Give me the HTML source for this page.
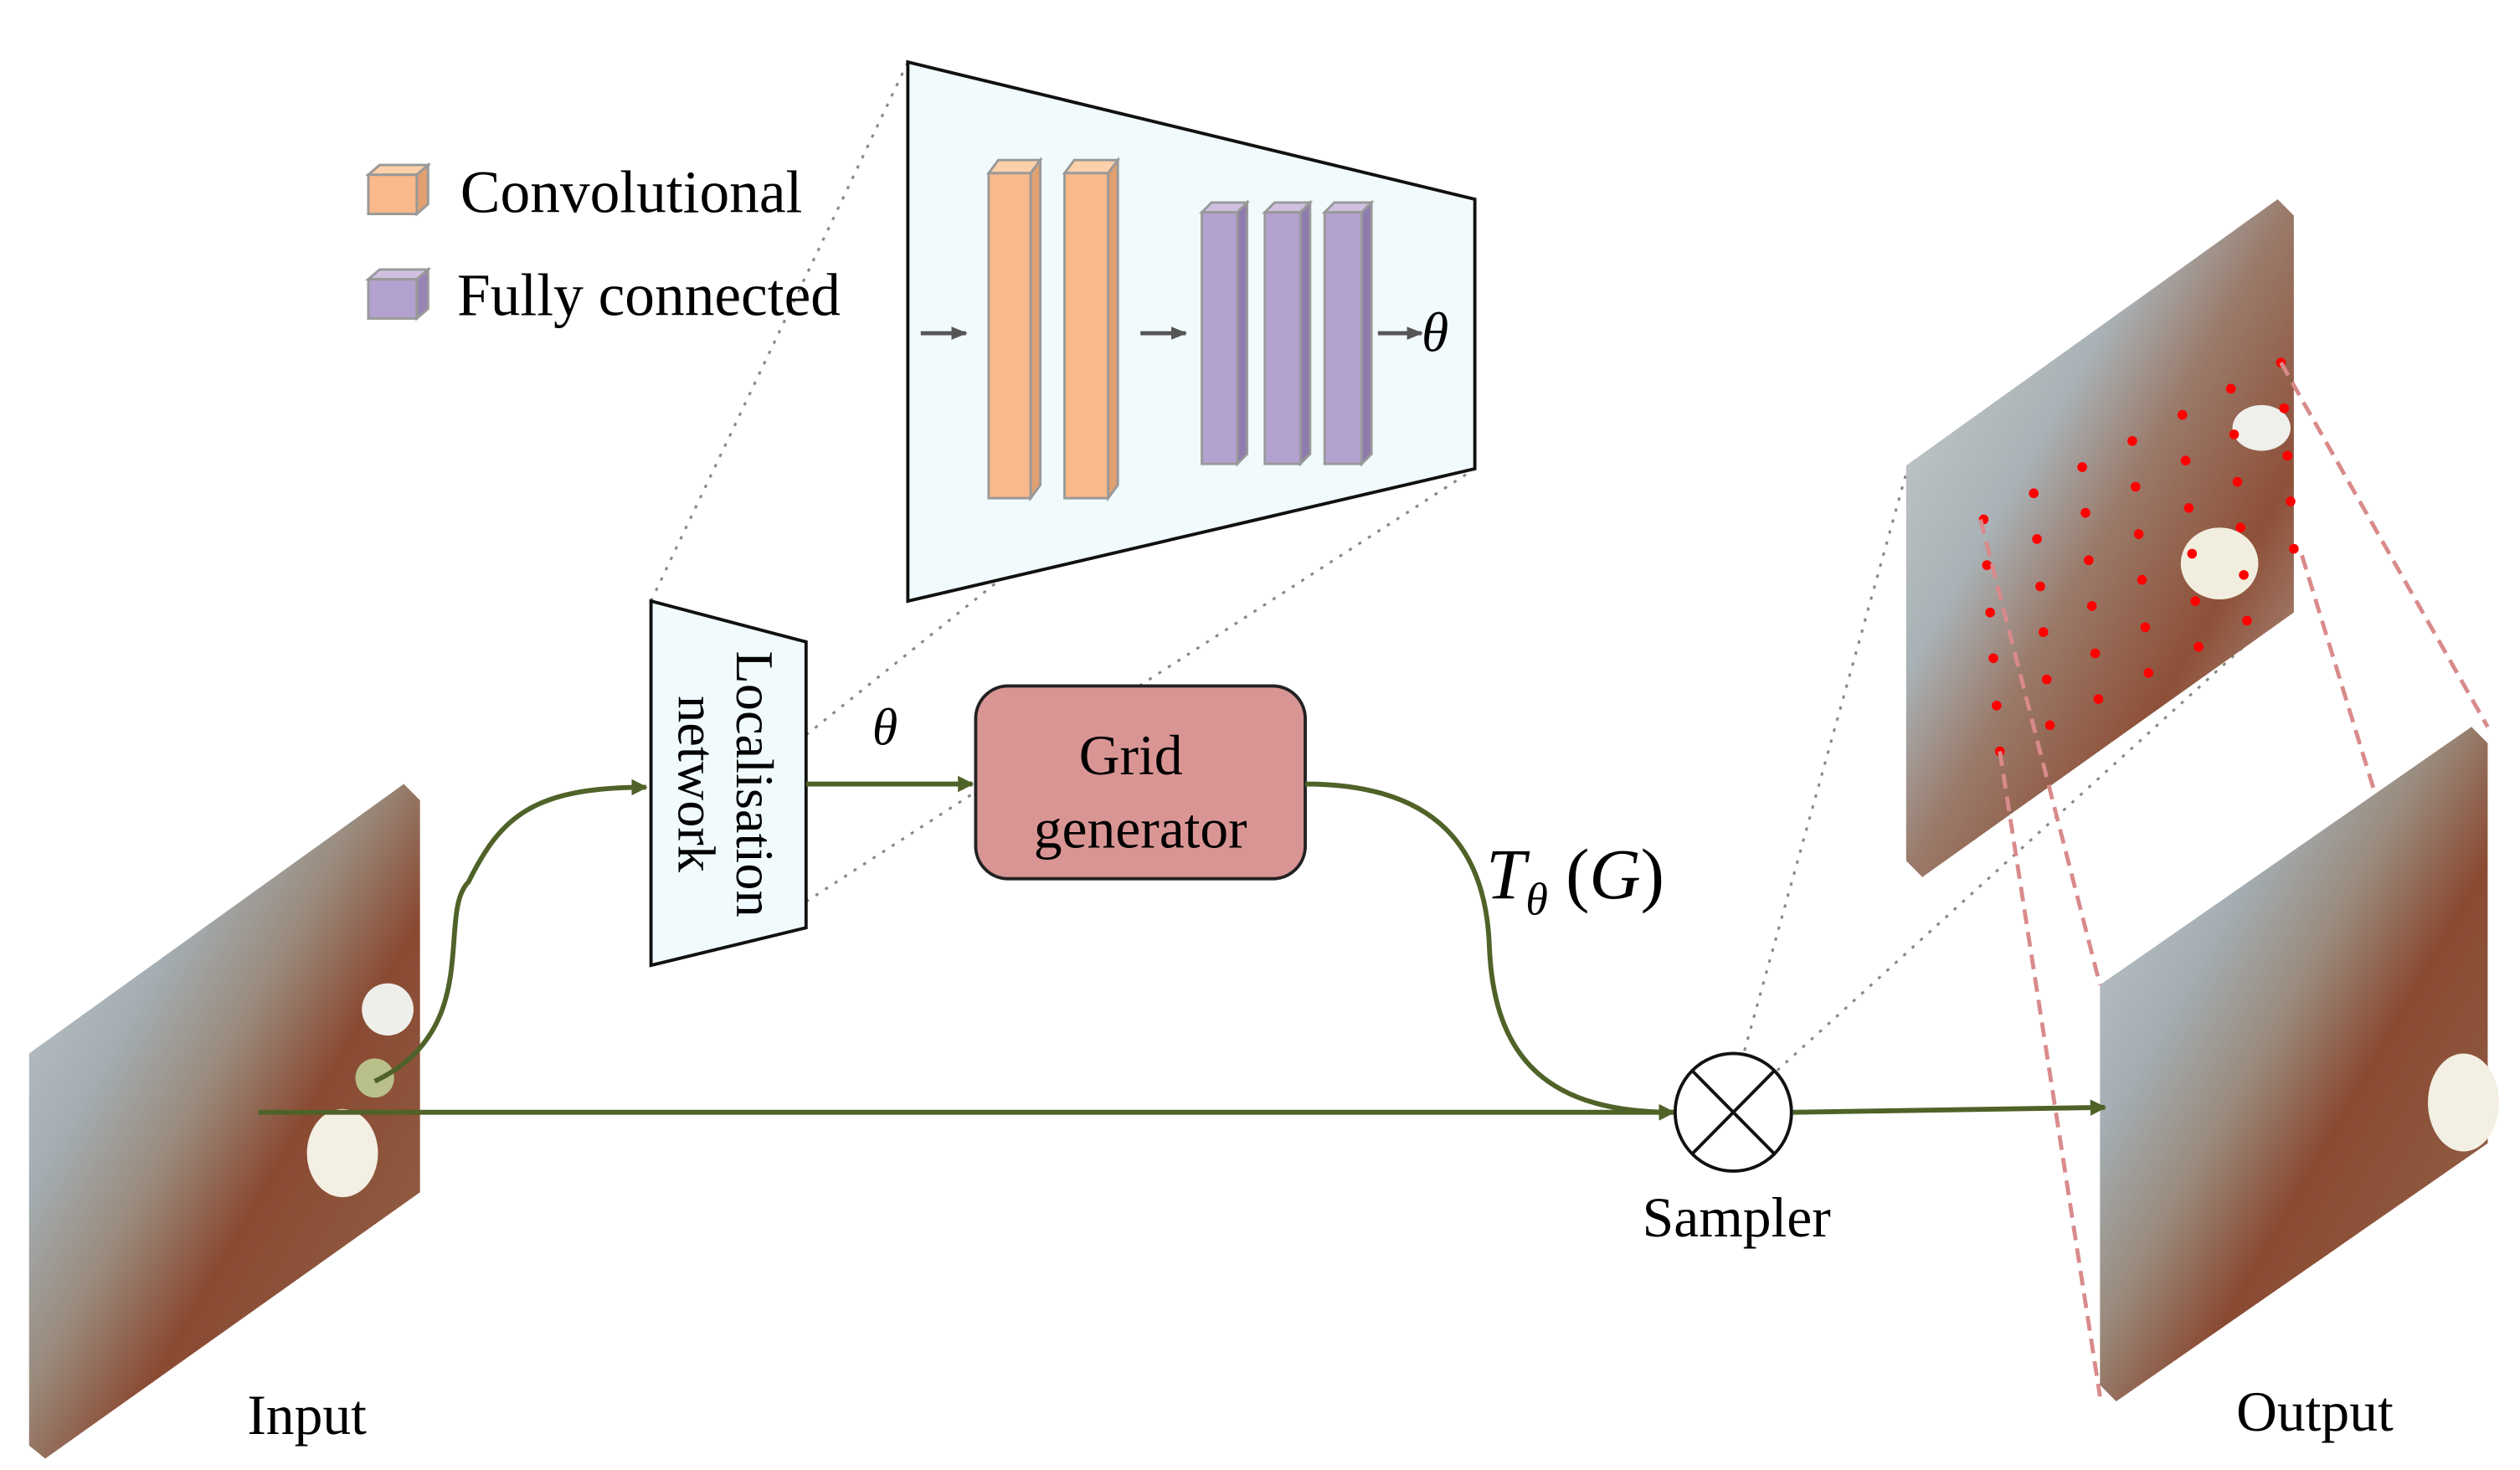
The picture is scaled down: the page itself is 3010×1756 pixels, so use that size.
<!DOCTYPE html>
<html><head><meta charset="utf-8"><style>
html,body{margin:0;padding:0;background:#fff;}
svg{display:block;}
text{font-family:"Liberation Serif",serif;}
</style></head><body>
<svg width="3010" height="1756" viewBox="0 0 1560 900" preserveAspectRatio="none" xmlns="http://www.w3.org/2000/svg">
<defs>
<linearGradient id="img" x1="0" y1="0" x2="1" y2="1">
<stop offset="0" stop-color="#c9cfd2"/>
<stop offset="0.3" stop-color="#a4aeb3"/>
<stop offset="0.45" stop-color="#9a8a7c"/>
<stop offset="0.6" stop-color="#8a4a32"/>
<stop offset="0.8" stop-color="#8e5a40"/>
<stop offset="1" stop-color="#8c8f8c"/>
</linearGradient>
<linearGradient id="img2" x1="0" y1="0" x2="1" y2="1">
<stop offset="0" stop-color="#d0d4d4"/>
<stop offset="0.35" stop-color="#a9b2b6"/>
<stop offset="0.5" stop-color="#9a7a6a"/>
<stop offset="0.7" stop-color="#8e5038"/>
<stop offset="1" stop-color="#b8b4ae"/>
</linearGradient>
<marker id="ga" markerWidth="10" markerHeight="10" refX="9" refY="5" orient="auto" markerUnits="userSpaceOnUse"><path d="M0,0 L10,5 L0,10 z" fill="#4f6228"/></marker>
<marker id="ka" markerWidth="10" markerHeight="10" refX="9" refY="5" orient="auto" markerUnits="userSpaceOnUse"><path d="M0,1 L10,5 L0,9 z" fill="#555"/></marker>
</defs>

<g stroke="#888" stroke-width="1.6" stroke-dasharray="2,5" fill="none">
<line x1="403" y1="368" x2="562" y2="38"/>
<line x1="499" y1="450" x2="913" y2="122"/>
<line x1="499" y1="552" x2="913" y2="287"/>
<line x1="1078" y1="650" x2="1180" y2="290"/>
<line x1="1095" y1="660" x2="1420" y2="368"/>
</g>

<polygon points="228,107 235,101 265,101 258,107" fill="#fcd0a8" stroke="#999" stroke-width="1.5"/>
<polygon points="258,107 265,101 265,125 258,131" fill="#e0a070" stroke="#999" stroke-width="1.5"/>
<rect x="228" y="107" width="30" height="24" fill="#f9b98a" stroke="#999" stroke-width="1.5"/>
<text x="285" y="130" font-size="37">Convolutional</text>
<polygon points="228,171 235,165 265,165 258,171" fill="#cfc0e0" stroke="#999" stroke-width="1.5"/>
<polygon points="258,171 265,165 265,189 258,195" fill="#9784b5" stroke="#999" stroke-width="1.5"/>
<rect x="228" y="171" width="30" height="24" fill="#b3a2d0" stroke="#999" stroke-width="1.5"/>
<text x="283" y="193" font-size="37">Fully connected</text>

<polygon points="562,38 913,122 913,287 562,368" fill="#f1fbfd" stroke="#111" stroke-width="2"/>
<g stroke="#999" stroke-width="1.5">
<polygon points="612,106 618,98 644,98 638,106" fill="#fcd0a8"/>
<polygon points="638,106 644,98 644,297 638,305" fill="#e0a070"/>
<rect x="612" y="106" width="26" height="199" fill="#f9b98a"/>
<polygon points="659,106 665,98 692,98 686,106" fill="#fcd0a8"/>
<polygon points="686,106 692,98 692,297 686,305" fill="#e0a070"/>
<rect x="659" y="106" width="27" height="199" fill="#f9b98a"/>
<polygon points="744,130 750,124 772,124 766,130" fill="#cfc0e0"/>
<polygon points="766,130 772,124 772,278 766,284" fill="#8f7cae"/>
<rect x="744" y="130" width="22" height="154" fill="#b3a2d0"/>
<polygon points="783,130 789,124 811,124 805,130" fill="#cfc0e0"/>
<polygon points="805,130 811,124 811,278 805,284" fill="#8f7cae"/>
<rect x="783" y="130" width="22" height="154" fill="#b3a2d0"/>
<polygon points="820,130 826,124 849,124 843,130" fill="#cfc0e0"/>
<polygon points="843,130 849,124 849,278 843,284" fill="#8f7cae"/>
<rect x="820" y="130" width="23" height="154" fill="#b3a2d0"/>
</g>
<g stroke="#555" stroke-width="2.5">
<line x1="570" y1="204" x2="598" y2="204" marker-end="url(#ka)"/>
<line x1="706" y1="204" x2="734" y2="204" marker-end="url(#ka)"/>
<line x1="853" y1="204" x2="880" y2="204" marker-end="url(#ka)"/>
</g>
<text x="880" y="215" font-size="34" font-style="italic">θ</text>

<polygon points="403,368 499,393 499,568 403,591" fill="#f1fbfd" stroke="#111" stroke-width="2"/>
<text transform="translate(456,480) rotate(90)" font-size="33" text-anchor="middle">Localisation</text>
<text transform="translate(420,480) rotate(90)" font-size="33" text-anchor="middle">network</text>

<rect x="604" y="420" width="204" height="118" rx="20" fill="#d99594" stroke="#222" stroke-width="2"/>
<text x="700" y="474" font-size="35" text-anchor="middle">Grid</text>
<text x="706" y="519" font-size="35" text-anchor="middle">generator</text>
<text x="540" y="456" font-size="32" font-style="italic">θ</text>

<polygon points="18,645 250,480 260,490 260,730 28,893 18,885" fill="url(#img)"/>
<polygon points="1180,285 1410,122 1420,132 1420,375 1190,537 1180,527" fill="url(#img2)"/>
<polygon points="1300,603 1530,445 1540,455 1540,700 1310,858 1300,848" fill="url(#img)"/>
<ellipse cx="212" cy="706" rx="22" ry="27" fill="#f3efe2"/>
<ellipse cx="240" cy="618" rx="16" ry="16" fill="#eeeeea"/>
<ellipse cx="232" cy="660" rx="12" ry="12" fill="#b9c08a"/>
<ellipse cx="1374" cy="345" rx="24" ry="22" fill="#f2eedf"/>
<ellipse cx="1400" cy="262" rx="18" ry="14" fill="#efefeb"/>
<ellipse cx="1525" cy="675" rx="22" ry="30" fill="#f3efe2"/>

<g fill="#f00">
<circle cx="1228" cy="318" r="3"/><circle cx="1259" cy="302" r="3"/><circle cx="1289" cy="286" r="3"/><circle cx="1320" cy="270" r="3"/><circle cx="1351" cy="254" r="3"/><circle cx="1381" cy="238" r="3"/><circle cx="1412" cy="222" r="3"/>
<circle cx="1230" cy="346" r="3"/><circle cx="1261" cy="330" r="3"/><circle cx="1291" cy="314" r="3"/><circle cx="1322" cy="298" r="3"/><circle cx="1353" cy="282" r="3"/><circle cx="1383" cy="266" r="3"/><circle cx="1414" cy="250" r="3"/>
<circle cx="1232" cy="375" r="3"/><circle cx="1263" cy="359" r="3"/><circle cx="1293" cy="343" r="3"/><circle cx="1324" cy="327" r="3"/><circle cx="1355" cy="311" r="3"/><circle cx="1385" cy="295" r="3"/><circle cx="1416" cy="279" r="3"/>
<circle cx="1234" cy="403" r="3"/><circle cx="1265" cy="387" r="3"/><circle cx="1295" cy="371" r="3"/><circle cx="1326" cy="355" r="3"/><circle cx="1357" cy="339" r="3"/><circle cx="1387" cy="323" r="3"/><circle cx="1418" cy="307" r="3"/>
<circle cx="1236" cy="432" r="3"/><circle cx="1267" cy="416" r="3"/><circle cx="1297" cy="400" r="3"/><circle cx="1328" cy="384" r="3"/><circle cx="1359" cy="368" r="3"/><circle cx="1389" cy="352" r="3"/><circle cx="1420" cy="336" r="3"/>
<circle cx="1238" cy="460" r="3"/><circle cx="1269" cy="444" r="3"/><circle cx="1299" cy="428" r="3"/><circle cx="1330" cy="412" r="3"/><circle cx="1361" cy="396" r="3"/><circle cx="1391" cy="380" r="3"/>
</g>

<g stroke="#d98a8a" stroke-width="2.5" stroke-dasharray="9,5" fill="none">
<line x1="1412" y1="222" x2="1540" y2="445"/>
<line x1="1425" y1="340" x2="1470" y2="485"/>
<line x1="1226" y1="318" x2="1300" y2="603"/>
<line x1="1238" y1="460" x2="1300" y2="855"/>
</g>

<g stroke="#4f6228" stroke-width="3" fill="none">
<path d="M232,662 C300,630 270,560 290,540 C310,500 330,482 400,482" marker-end="url(#ga)"/>
<line x1="499" y1="480" x2="602" y2="480" marker-end="url(#ga)"/>
<path d="M808,480 C890,480 920,520 922,580 C925,650 960,681 1036,681" marker-end="url(#ga)"/>
<line x1="160" y1="681" x2="1036" y2="681" marker-end="url(#ga)"/>
<line x1="1110" y1="681" x2="1303" y2="678" marker-end="url(#ga)"/>
</g>

<circle cx="1073" cy="681" r="36" fill="#fff" stroke="#111" stroke-width="2"/>
<line x1="1048" y1="656" x2="1098" y2="706" stroke="#111" stroke-width="2"/>
<line x1="1098" y1="656" x2="1048" y2="706" stroke="#111" stroke-width="2"/>
<text x="1075" y="757" font-size="35" text-anchor="middle">Sampler</text>

<text x="920" y="550" font-size="44" font-style="italic">T<tspan font-size="28" dy="10">θ</tspan><tspan dy="-10" font-style="normal"> (</tspan>G<tspan font-style="normal">)</tspan></text>

<text x="190" y="878" font-size="35" text-anchor="middle">Input</text>
<text x="1433" y="876" font-size="35" text-anchor="middle">Output</text>
</svg>
</body></html>
